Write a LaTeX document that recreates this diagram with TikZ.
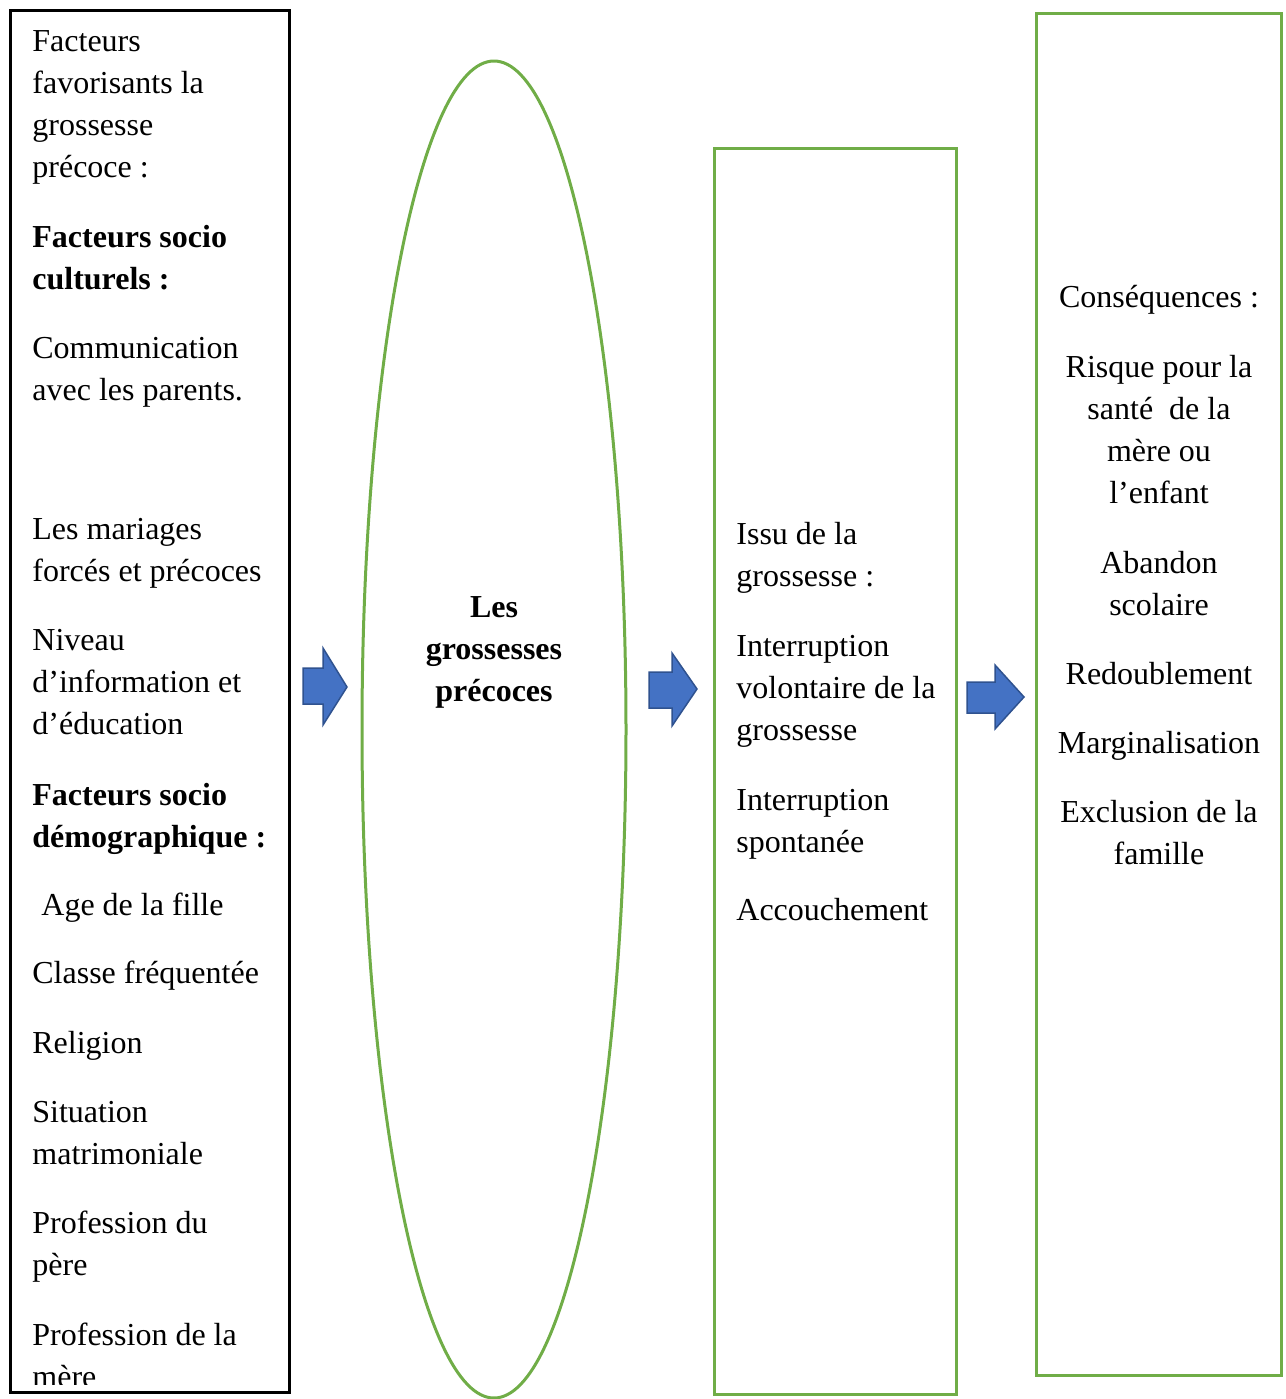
\documentclass[tikz,border=0pt]{standalone}
\usepackage{fontspec}
\setmainfont{Liberation Serif}
\usepackage{tikz}
\usetikzlibrary{positioning,shapes.geometric,fit}
\definecolor{vertcadre}{HTML}{70AD47}
\definecolor{bleufleche}{HTML}{4472C4}
\definecolor{bleubord}{HTML}{2F528F}
\tikzset{
  cadre/.style={
      draw=black,
      line width=1.5pt,
      inner sep=0pt,
  },
  cadrevert/.style={
      draw=vertcadre,
      line width=1.5pt,
      inner sep=0pt,
  },
  texte/.style={
      anchor=base west,
      align=flush left,
      text width=#1,
      inner sep=0pt,
      font=\fontsize{16}{21}\selectfont,
  },
  texte/.default=130pt,
  textecentre/.style={
      anchor=base,
      align=flush center,
      text width=#1,
      inner sep=0pt,
      font=\fontsize{16}{21}\selectfont,
  },
  textecentre/.default=120pt,
  fleche/.style={
      fill=bleufleche,
      draw=bleubord,
      line width=0.75pt,
  },
}

\begin{document}
\begin{tikzpicture}[x=0.5pt,y=-0.5pt]
  \useasboundingbox (0,0) rectangle (1286,1399);

  % les quatre cadres
  \node[cadre, fit={(10.5,10.5)(289.5,1392.5)}] (facteurs) {};
  \node[cadrevert, ellipse, minimum width=132pt, minimum height=668.5pt] (ovale) at (494,729.5) {};
  \node[cadrevert, fit={(714.5,148.5)(956.5,1394.5)}] (issue) {};
  \node[cadrevert, fit={(1036.5,13.5)(1281.5,1375.5)}] (consequences) {};

  % colonne des facteurs
  \begin{scope}
    \clip (12,12) rectangle (288,1384);
    \node[texte] (f1) at (32,51) {Facteurs\\favorisants la\\grossesse\\précoce :};
    \node[texte] (f2) at (32,247) {\textbf{Facteurs socio}\\\textbf{culturels :}};
    \node[texte] (f3) at (32,358) {Communication\\avec les parents.};
    \node[texte] (f4) at (32,539) {Les mariages\\forcés et précoces};
    \node[texte] (f5) at (32,650) {Niveau\\d’information et\\d’éducation};
    \node[texte] (f6) at (32,805) {\textbf{Facteurs socio}\\\textbf{démographique :}};
    \node[texte] (f7) at (41,915) {Age de la fille};
    \node[texte] (f8) at (32,983) {Classe fréquentée};
    \node[texte] (f9) at (32,1053) {Religion};
    \node[texte] (f10) at (32,1122) {Situation\\matrimoniale};
    \node[texte] (f11) at (32,1233) {Profession du\\père};
    \node[texte] (f12) at (32,1345) {Profession de la\\mère};
  \end{scope}

  % centre
  \node[textecentre] (titre) at (494,617) {\textbf{Les}\\\textbf{grossesses}\\\textbf{précoces}};

  % issue de la grossesse
  \node[texte=120pt] (i1) at (736,544) {Issu de la\\grossesse :};
  \node[texte=120pt] (i2) at (736,656) {Interruption\\volontaire de la\\grossesse};
  \node[texte=120pt] (i3) at (736,810) {Interruption\\spontanée};
  \node[texte=120pt] (i4) at (736,920) {Accouchement};

  % consequences
  \node[textecentre] (c1) at (1159,307) {Conséquences :};
  \node[textecentre] (c2) at (1159,377) {Risque pour la\\santé~ de la\\mère ou\\l’enfant};
  \node[textecentre] (c3) at (1159,573) {Abandon\\scolaire};
  \node[textecentre] (c4) at (1159,684) {Redoublement};
  \node[textecentre] (c5) at (1159,753) {Marginalisation};
  \node[textecentre] (c6) at (1159,822) {Exclusion de la\\famille};

  % fleches
  \draw[fleche] (303,668) -- (323,668) -- (323,648) -- (347,687) -- (323,725) -- (323,704) -- (303,704) -- cycle;
  \draw[fleche] (649,672) -- (672,672) -- (672,653) -- (697,689) -- (672,726) -- (672,708) -- (649,708) -- cycle;
  \draw[fleche] (967,682) -- (995,682) -- (995,665) -- (1024,697) -- (995,729) -- (995,713) -- (967,713) -- cycle;
\end{tikzpicture}
\end{document}
